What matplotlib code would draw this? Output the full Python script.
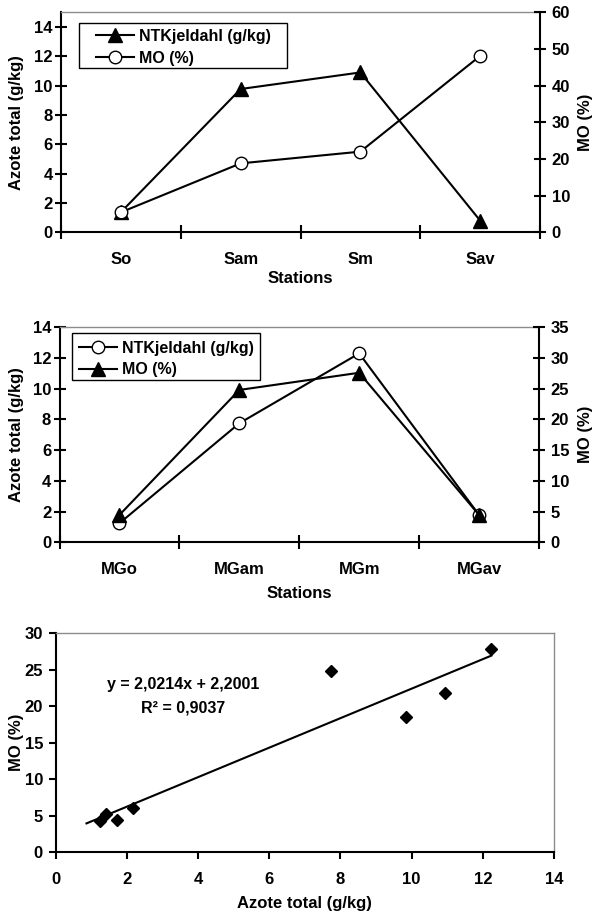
import matplotlib
matplotlib.use('Agg')
import matplotlib.pyplot as plt
from matplotlib.patches import Rectangle
import numpy as np

# ---------------- data ----------------
top_stations = ['So', 'Sam', 'Sm', 'Sav']
top_ntk = [1.37, 9.77, 10.9, 0.8]        # Azote total (g/kg), left axis
top_mo = [5.45, 18.8, 22.0, 48.1]         # MO (%), right axis

mid_stations = ['MGo', 'MGam', 'MGm', 'MGav']
mid_ntk = [1.24, 7.75, 12.3, 1.78]        # left axis
mid_mo = [4.45, 24.8, 27.6, 4.45]         # right axis

sc_azote = [1.25, 1.41, 1.73, 2.17, 7.74, 9.85, 10.94, 12.24]
sc_mo = [4.29, 5.25, 4.43, 6.07, 24.8, 18.58, 21.8, 27.8]
trend_slope = 2.0214
trend_intercept = 2.2001
trend_r2 = 0.9037
trend_range = [0.87, 12.24]

left_ticks_top = [0, 2, 4, 6, 8, 10, 12, 14]
right_ticks_top = [0, 10, 20, 30, 40, 50, 60]
left_ticks_mid = [0, 2, 4, 6, 8, 10, 12, 14]
right_ticks_mid = [0, 5, 10, 15, 20, 25, 30, 35]
sc_xticks = [0, 2, 4, 6, 8, 10, 12, 14]
sc_yticks = [0, 5, 10, 15, 20, 25, 30]

# ---------------- style ----------------
W, H, DPI = 593, 913, 100
plt.rcParams['font.family'] = ['Liberation Sans', 'DejaVu Sans']
plt.rcParams['font.weight'] = 'bold'
TICK_FS = 12
LAB_FS = 12
LEG_FS = 11.5
GRAY = '#8c8c8c'
LW = 1.5

fig = plt.figure(figsize=(W / DPI, H / DPI), dpi=DPI)


def add_axes(l, r, t, b):
    return fig.add_axes([l / W, 1 - b / H, (r - l) / W, (b - t) / H])


def ftext(x, y, s, size=LAB_FS, **kw):
    fig.text(x / W, 1 - y / H, s, fontsize=size, fontweight='bold', **kw)


def cat_chart(box, cats, lvals, rvals, lmark, rmark, lylim, lticks, rylim, rticks,
              labels, order, legbox, leganchor, xlab_y, ylab_x, rlab_x):
    ax = add_axes(*box)
    ax2 = ax.twinx()
    x = np.arange(len(cats))
    styles = {
        '^': dict(marker='^', ms=9.5, mfc='black', mec='black'),
        'o': dict(marker='o', ms=9, mfc='white', mec='black', mew=1.0),
    }
    l1, = ax.plot(x, lvals, color='black', lw=LW, **styles[lmark], zorder=3)
    l2, = ax2.plot(x, rvals, color='black', lw=LW, **styles[rmark], zorder=3)
    ax.set_xlim(-0.5, len(cats) - 0.5)
    ax.set_ylim(*lylim)
    ax2.set_ylim(*rylim)
    ax.set_yticks(lticks)
    ax2.set_yticks(rticks)
    ax.set_xticks(np.arange(len(cats) + 1) - 0.5)
    ax.set_xticklabels([])
    ax.set_xticks(x, minor=True)
    ax.set_xticklabels(cats, minor=True)
    ax.tick_params(axis='x', which='major', direction='inout', length=10, width=LW)
    ax.tick_params(axis='x', which='minor', length=0, pad=14, labelsize=TICK_FS)
    ax.tick_params(axis='y', direction='inout', length=9, width=LW, pad=1.5,
                   labelsize=TICK_FS)
    ax2.tick_params(axis='y', direction='inout', length=9, width=LW, pad=4,
                    labelsize=TICK_FS)
    for a in (ax, ax2):
        for lab in a.get_xticklabels(which='both') + a.get_yticklabels():
            lab.set_fontweight('bold')
    for s in ('left', 'bottom'):
        ax.spines[s].set_linewidth(LW)
    ax.spines['right'].set_visible(False)
    ax.spines['top'].set_color(GRAY)
    ax.spines['top'].set_linewidth(1)
    for s in ('left', 'bottom', 'top'):
        ax2.spines[s].set_visible(False)
    ax2.spines['right'].set_linewidth(LW)
    # legend
    lines = [l1, l2]
    handles = [lines[i] for i in order]
    ax2.legend(handles, labels, loc='upper left',
               bbox_to_anchor=(leganchor[0] / W, 1 - leganchor[1] / H),
               bbox_transform=fig.transFigure, frameon=False,
               borderpad=0, borderaxespad=0, handlelength=2.4,
               handletextpad=0.3, labelspacing=0.42,
               prop=dict(size=LEG_FS, weight='bold'))
    l, t, r, b = legbox
    fig.patches.append(Rectangle((l / W, 1 - b / H), (r - l) / W, (b - t) / H,
                                 transform=fig.transFigure, fill=False,
                                 ec='black', lw=1.0, zorder=5))
    ftext((box[0] + box[1]) / 2, xlab_y, 'Stations', ha='center', va='center')
    ftext(ylab_x, (box[2] + box[3]) / 2, 'Azote total (g/kg)', ha='center',
          va='center', rotation=90)
    ftext(rlab_x, (box[2] + box[3]) / 2, 'MO (%)', ha='center', va='center',
          rotation=90)
    return ax, ax2


# top chart
cat_chart((61, 540, 12.3, 232.3), top_stations, top_ntk, top_mo, '^', 'o',
          (0, 15), left_ticks_top, (0, 60), right_ticks_top,
          ['NTKjeldahl (g/kg)', 'MO (%)'], [0, 1],
          (78.5, 22.7, 287, 68.3), (96, 29), 278.3, 17, 585.7)

# middle chart
cat_chart((59.5, 539, 327.3, 542.3), mid_stations, mid_ntk, mid_mo, 'o', '^',
          (0, 14), left_ticks_mid, (0, 35), right_ticks_mid,
          ['NTKjeldahl (g/kg)', 'MO (%)'], [0, 1],
          (72, 332.7, 259.7, 380), (78.5, 340.5), 593.3, 17, 585.7)

# scatter chart
box = (55.5, 554, 633.3, 852.3)
ax3 = add_axes(*box)
ax3.plot(sc_azote, sc_mo, linestyle='none', marker='D', ms=6.5, color='black',
         zorder=3)
tx = np.array(trend_range)
ax3.plot(tx, trend_slope * tx + trend_intercept, color='black', lw=LW, zorder=2)
ax3.set_xlim(0, 14)
ax3.set_ylim(0, 30)
ax3.set_xticks(sc_xticks)
ax3.set_yticks(sc_yticks)
ax3.tick_params(axis='x', direction='out', length=5, width=LW, pad=9,
                labelsize=TICK_FS)
ax3.tick_params(axis='y', direction='out', length=5, width=LW, pad=4,
                labelsize=TICK_FS)
for lab in ax3.get_xticklabels() + ax3.get_yticklabels():
    lab.set_fontweight('bold')
for s in ('left', 'bottom'):
    ax3.spines[s].set_linewidth(LW)
for s in ('top', 'right'):
    ax3.spines[s].set_color(GRAY)
    ax3.spines[s].set_linewidth(1)
eq = 'y = {}x + {}'.format(f'{trend_slope:.4f}'.replace('.', ','),
                           f'{trend_intercept:.4f}'.replace('.', ','))
ftext(183, 684, eq, size=LEG_FS, ha='center', va='center')
ftext(183, 708, 'R² = ' + f'{trend_r2:.4f}'.replace('.', ','), size=LEG_FS,
      ha='center', va='center')
ftext((box[0] + box[1]) / 2, 903.3, 'Azote total (g/kg)', ha='center',
      va='center')
ftext(16, (box[2] + box[3]) / 2, 'MO (%)', ha='center', va='center', rotation=90)

fig.savefig('out.png', dpi=DPI)
